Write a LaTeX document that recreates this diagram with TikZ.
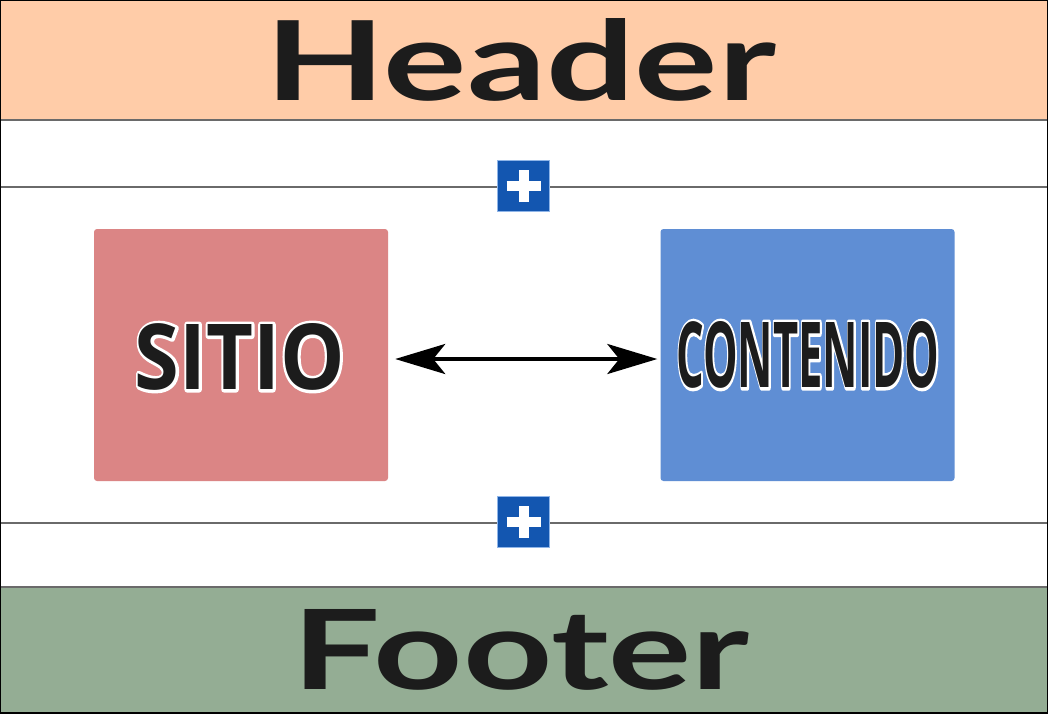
\documentclass[tikz,border=0pt]{standalone}
\usepackage{fontspec}
\usepackage{graphicx}
\setmainfont{Open Sans}
\newfontfamily\hfont{Lato}
\usetikzlibrary{arrows.meta}
\definecolor{hdr}{HTML}{FFCCA8}
\definecolor{ftr}{HTML}{94AD94}
\definecolor{sit}{HTML}{DB8585}
\definecolor{con}{HTML}{5F8ED4}
\definecolor{plusblue}{HTML}{1356B0}
\definecolor{pluslight}{HTML}{8FB5E8}
\definecolor{sep}{HTML}{6A6A6A}
\definecolor{ink}{HTML}{1C1C1C}
\newcommand\haloword[1]{\rlap{\textcolor{white}{\special{pdf:literal 2 Tr 0.65 w 1 j 1 1 1 RG}#1\special{pdf:literal 0 Tr}}}#1}
\tikzset{
  panel/.style={fill=#1, draw=none, rounded corners=3pt, minimum width=294pt, minimum height=252pt, inner sep=0pt},
  sepline/.style={draw=sep, line width=1.5pt},
  plusbox/.style={fill=plusblue, draw=pluslight, line width=1pt, minimum width=52pt, minimum height=51pt, inner sep=0pt},
  crossbar/.style={draw=white, line width=10pt},
  link/.style={line width=4pt, {Stealth[length=50pt,width=30pt,inset=12pt]}-{Stealth[length=50pt,width=30pt,inset=12pt]}}
}
\begin{document}
\begin{tikzpicture}[x=1pt,y=-1pt]
\useasboundingbox (0,0) rectangle (1048,713);
\fill[white] (0,0) rectangle (1048,713);
% bands
\fill[hdr] (0,0) rectangle (1048,120);
\fill[ftr] (0,587) rectangle (1048,713);
\node[inner sep=0pt, text=ink] (header) at (521,60) {\resizebox{510pt}{82pt}{\hfont\bfseries Header}};
\node[inner sep=0pt, text=ink] (footer) at (521,650) {\resizebox{457pt}{80pt}{\hfont\bfseries Footer}};
% separator lines
\coordinate (l1a) at (0,120); \coordinate (l1b) at (1048,120);
\coordinate (l2a) at (0,187); \coordinate (l2b) at (1048,187);
\coordinate (l3a) at (0,523); \coordinate (l3b) at (1048,523);
\coordinate (l4a) at (0,587); \coordinate (l4b) at (1048,587);
\draw[sepline] (l1a) -- (l1b);
\draw[sepline] (l2a) -- (l2b);
\draw[sepline] (l3a) -- (l3b);
\draw[sepline] (l4a) -- (l4b);
% plus boxes
\node[plusbox] (plus1) at (523.5,186) {};
\draw[crossbar] ([xshift=-17pt]plus1.center) -- ([xshift=17pt]plus1.center);
\draw[crossbar] ([yshift=-16pt]plus1.center) -- ([yshift=16pt]plus1.center);
\node[plusbox] (plus2) at (523.5,521.5) {};
\draw[crossbar] ([xshift=-17pt]plus2.center) -- ([xshift=17pt]plus2.center);
\draw[crossbar] ([yshift=-16pt]plus2.center) -- ([yshift=16pt]plus2.center);
% panels
\node[panel=sit] (sitio) at (241,355) {};
\node[panel=con] (contenido) at (807.5,355) {};
\node[inner sep=0pt, text=ink] (sitiotext) at (240,357) {\resizebox{210pt}{66pt}{\bfseries\haloword{SITIO}}};
\node[inner sep=0pt, text=ink] (contenidotext) at (808,355) {\resizebox{263pt}{66pt}{\bfseries\haloword{CONTENIDO}}};
% arrow
\draw[link, shorten <=7pt, shorten >=3pt] ([yshift=-4pt]sitio.east) -- ([yshift=-4pt]contenido.west);
% outer border
\draw[black, line width=2pt] (0,0) rectangle (1048,713);
\end{tikzpicture}
\end{document}
